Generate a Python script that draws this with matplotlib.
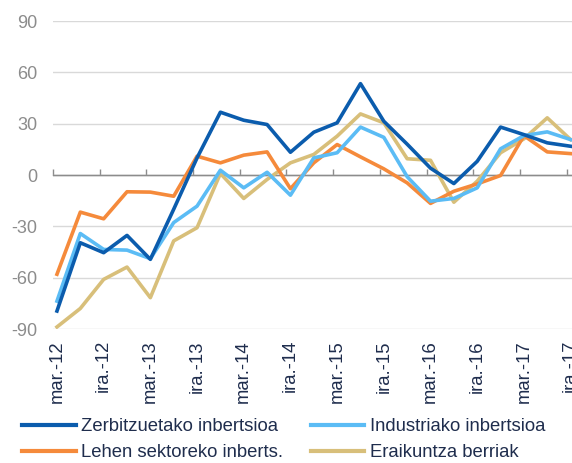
import numpy as np
import matplotlib.pyplot as plt

plt.rcParams['font.family'] = ['Liberation Sans', 'DejaVu Sans']
plt.rcParams['axes.unicode_minus'] = False

# quarterly data, mar.-12 .. ira.-17
zerbitzu = [-79.5, -39.6, -45.4, -35.3, -49.3, -20, 10, 36.7, 32, 29.5, 13.3, 25,
            30.5, 53.4, 31.4, 18, 4, -5, 8, 28, 23.6, 18.8, 16.8]
industria = [-73.7, -34.2, -43.5, -43.9, -48.9, -27.8, -18.2, 2.8, -7.5, 1.6, -11.8, 10,
             13, 28, 22, -1, -15.3, -13.7, -7.5, 15.3, 23, 25.2, 20.7]
lehen = [-58, -21.7, -25.6, -9.8, -10, -12.4, 11, 7.1, 11.6, 13.5, -8, 7.1,
         17.8, 10.6, 3.6, -4.6, -16.6, -9.5, -5.2, -0.3, 23, 13.5, 12.5]
eraikuntza = [-88.8, -78, -61, -53.8, -71.7, -38.5, -30.8, 0.9, -13.7, -2.6, 7.1, 12,
              22.7, 35.7, 30.5, 9.5, 8.6, -15.9, -3.6, 13, 21.1, 33.4, 20.7]

tick_labels = ['mar.-12', 'ira.-12', 'mar.-13', 'ira.-13', 'mar.-14', 'ira.-14',
               'mar.-15', 'ira.-15', 'mar.-16', 'ira.-16', 'mar.-17', 'ira.-17']

names = ['Zerbitzuetako inbertsioa', 'Industriako inbertsioa',
         'Lehen sektoreko inberts.', 'Eraikuntza berriak']
colors = ['#0b5cad', '#5bbcf5', '#f58a3b', '#d8bf7a']

x = np.arange(len(zerbitzu))

fig = plt.figure(figsize=(5.72, 4.63), dpi=100)
ax = fig.add_axes([53/572, 134/463, 1 - 53/572, 308/463])

# dark blue drawn last so it sits on top
l3, = ax.plot(x, eraikuntza, color=colors[3], lw=2.6, zorder=3)
l2, = ax.plot(x, lehen, color=colors[2], lw=2.6, zorder=4)
l1, = ax.plot(x, industria, color=colors[1], lw=2.6, zorder=5)
l0, = ax.plot(x, zerbitzu, color=colors[0], lw=2.6, zorder=6)

ax.set_ylim(-90, 90)
ax.set_xlim(-0.17, 22.06)
ax.set_yticks(np.arange(-90, 91, 30))
ax.yaxis.grid(True, color='#d9d9d9', lw=1)
ax.set_axisbelow(True)
for s in ax.spines.values():
    s.set_visible(False)
ax.tick_params(axis='y', length=0, labelsize=13, labelcolor='#8c8c8c', pad=11)

ax.set_xticks(x[::2])
ax.set_xticklabels(tick_labels, rotation=90)
ax.tick_params(axis='x', length=0, labelsize=13.3, labelcolor='#1f2d4d', pad=8)

# zero line with tick marks
sec = ax.secondary_xaxis(0.5)
sec.set_xticks(x[::2] - 0.17)
sec.set_xticklabels([])
sec.tick_params(direction='out', length=4, color='#8c8c8c', width=1)
sec.spines['bottom'].set_color('#8c8c8c')
sec.spines['bottom'].set_linewidth(1)
ax.axhline(0, color='#8c8c8c', lw=1, zorder=2)

# legend, filled row by row: column 1 = zerbitzu, lehen ; column 2 = industria, eraikuntza
leg = fig.legend([l0, l2, l1, l3], [names[0], names[2], names[1], names[3]],
                 loc='upper left', bbox_to_anchor=(22/572, 1 - 418/463),
                 ncol=2, frameon=False, fontsize=13.3, handlelength=2.9,
                 handletextpad=0.3, columnspacing=1.5, labelspacing=0.5,
                 borderaxespad=0, borderpad=0)
for t in leg.get_texts():
    t.set_color('#1f2d4d')
for line in leg.get_lines():
    line.set_linewidth(3)

fig.savefig('out.png', dpi=100)
